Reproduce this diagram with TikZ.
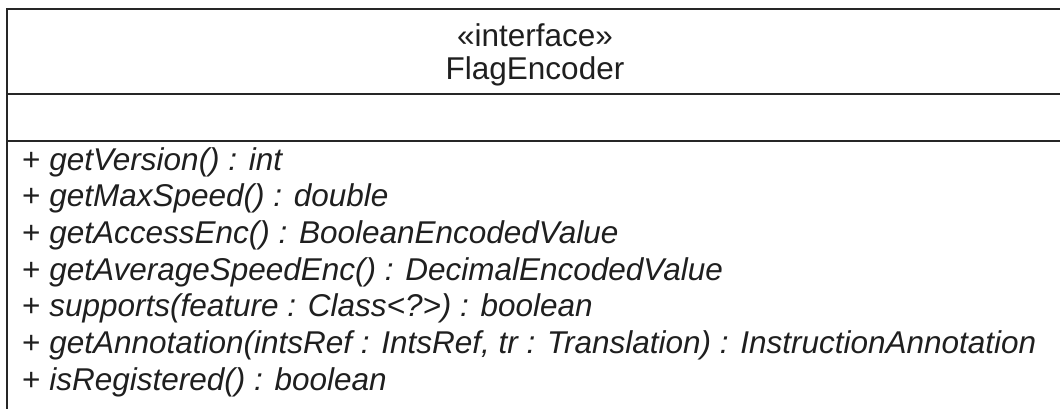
\documentclass[tikz,border=0pt]{standalone}
\usepackage{fontspec}
\setmainfont{Liberation Sans}
\begin{document}
\begin{tikzpicture}[x=1pt,y=1pt,
  frame/.style={draw=black!85, line width=1.5pt},
  umltext/.style={font=\fontsize{31.5}{36.7}\selectfont, inner sep=0pt, text=black!88}]
  \useasboundingbox (0,0) rectangle (1060,408);
  \fill[white] (0,0) rectangle (1060,408);
  \clip (0,0) rectangle (1060,408);
  % class frame and compartment separators
  \coordinate (topleft) at (7,399);
  \coordinate (topright) at (1066,399);
  \coordinate (botleft) at (7,-5);
  \coordinate (sepAleft) at (7,314);
  \coordinate (sepAright) at (1066,314);
  \coordinate (sepBleft) at (7,267);
  \coordinate (sepBright) at (1066,267);
  \draw[frame] (botleft) -- (topleft) -- (topright);
  \draw[frame] (sepAleft) -- (sepAright);
  \draw[frame] (sepBleft) -- (sepBright);
  % class name compartment
  \node[umltext, anchor=base] (stereo) at (535,361) {«interface»};
  \node[umltext, anchor=base] (name) at (535,329) {FlagEncoder};
  % operations compartment
  \node[umltext, anchor=north west, align=left] (ops) at (22,261) {%
    + \textit{getVersion() : int}\\
    + \textit{getMaxSpeed() : double}\\
    + \textit{getAccessEnc() : BooleanEncodedValue}\\
    + \textit{getAverageSpeedEnc() : DecimalEncodedValue}\\
    + \textit{supports(feature : Class<?>) : boolean}\\
    + \textit{getAnnotation(intsRef : IntsRef, tr : Translation) : InstructionAnnotation}\\
    + \textit{isRegistered() : boolean}};
\end{tikzpicture}
\end{document}
